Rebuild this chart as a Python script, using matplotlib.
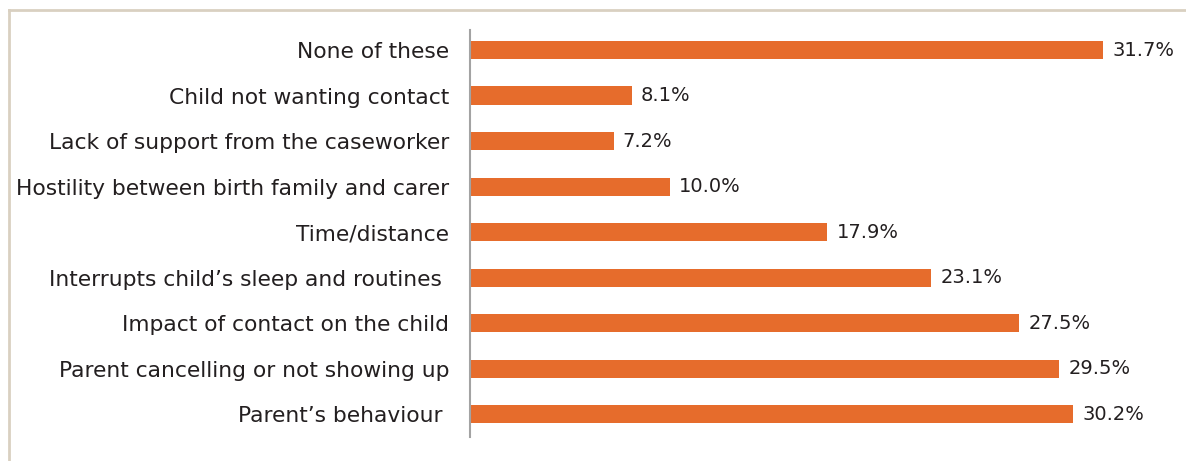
import matplotlib
matplotlib.use('Agg')
import matplotlib.pyplot as plt
from matplotlib.lines import Line2D

# Survey categories, listed top to bottom as in the chart
categories = [
    "None of these",
    "Child not wanting contact",
    "Lack of support from the caseworker",
    "Hostility between birth family and carer",
    "Time/distance",
    "Interrupts child\u2019s sleep and routines ",
    "Impact of contact on the child",
    "Parent cancelling or not showing up",
    "Parent\u2019s behaviour ",
]
percentages = [31.7, 8.1, 7.2, 10.0, 17.9, 23.1, 27.5, 29.5, 30.2]

BAR_COLOR = '#e66c2c'
TEXT_COLOR = '#231f20'
AXIS_COLOR = '#a3a3a3'
FRAME_COLOR = '#d9d0c1'

plt.rcParams['font.family'] = ['DejaVu Sans']

W, H = 1186, 461
fig = plt.figure(figsize=(W / 100, H / 100), dpi=100)
ax = fig.add_axes([470 / W, (H - 437) / H, 700 / W, 407 / H])

# plot bottom-up so the first category sits on top
cats = categories[::-1]
vals = percentages[::-1]
ypos = list(range(len(cats)))
ax.barh(ypos, vals, height=0.4, color=BAR_COLOR)

for y, v in zip(ypos, vals):
    ax.text(v + 0.45, y, f"{v:.1f}%", va='center', ha='left',
            fontsize=14, color=TEXT_COLOR)

ax.set_xlim(0, 35.05)
ax.set_ylim(-0.5, 8.44)
ax.set_yticks(ypos)
ax.set_yticklabels(cats, fontsize=15.7, color=TEXT_COLOR)
ax.tick_params(axis='y', length=0, pad=15)
ax.set_xticks([])

for side in ['top', 'right', 'bottom']:
    ax.spines[side].set_visible(False)
ax.spines['left'].set_color(AXIS_COLOR)
ax.spines['left'].set_linewidth(1.5)

# light frame along the top and left edges
fig.add_artist(Line2D([9 / W, 1], [1 - 10 / H, 1 - 10 / H],
                      transform=fig.transFigure, color=FRAME_COLOR, lw=2))
fig.add_artist(Line2D([9 / W, 9 / W], [0, 1 - 10 / H],
                      transform=fig.transFigure, color=FRAME_COLOR, lw=2))

fig.savefig('out.png', dpi=100)
